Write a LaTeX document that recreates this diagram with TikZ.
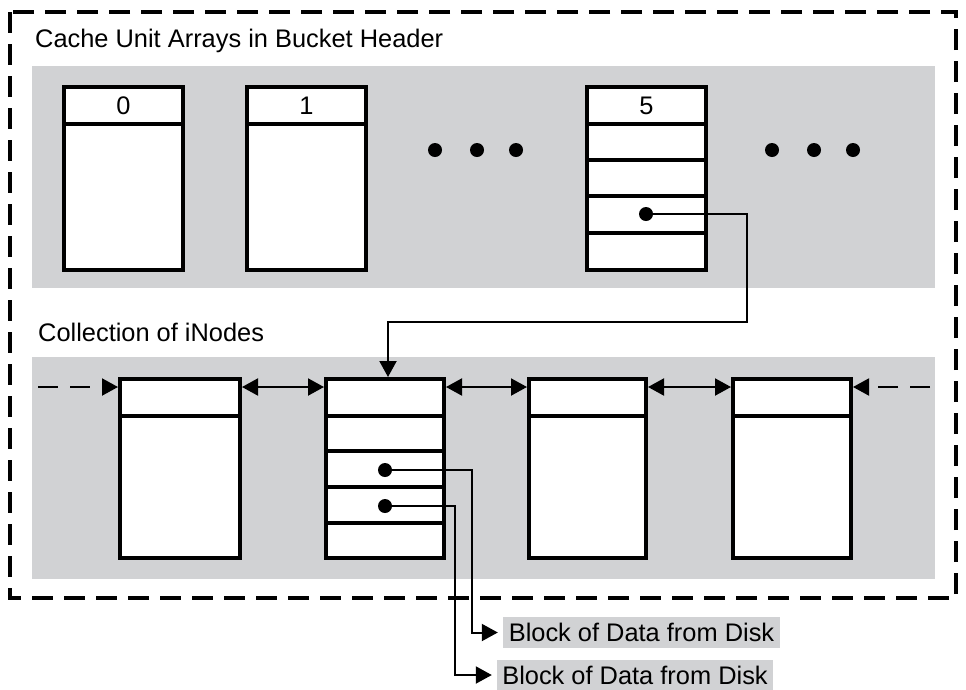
\documentclass[tikz,border=0pt]{standalone}
\usepackage{fontspec}
\setmainfont{Liberation Sans}
\usetikzlibrary{arrows.meta}
\definecolor{bandgray}{RGB}{209,210,212}
\begin{document}
\begin{tikzpicture}[x=1pt,y=-1pt,
  every node/.style={font=\fontsize{25.4}{30}\selectfont},
  cellbox/.style={draw, line width=4pt, fill=white, inner sep=0pt},
  divider/.style={line width=3.5pt},
  conn/.style={line width=2pt},
  dotn/.style={circle, fill=black, inner sep=0pt, minimum size=14pt},
  tipT/.tip={Triangle[length=16pt,width=17pt]},
  lbl/.style={fill=bandgray, inner sep=0pt},
  title/.style={anchor=base west, inner sep=0pt}]
\useasboundingbox (0,0) rectangle (966,689);
% outer frame and bands
\draw[line width=4pt, dash pattern=on 21pt off 11pt] (10,12) rectangle (956,598);
\fill[bandgray] (32,66) rectangle (935,288);
\fill[bandgray] (32,357) rectangle (935,579);
% titles
\node[title] (t1) at (35,47) {Cache Unit Arrays in Bucket Header};
\node[title] (t2) at (38,341) {Collection of iNodes};
% cache unit arrays
\node[cellbox, minimum width=119pt, minimum height=183pt] (c0) at (123.5,178.5) {};
\node[cellbox, minimum width=119pt, minimum height=183pt] (c1) at (306.5,178.5) {};
\node[cellbox, minimum width=119pt, minimum height=183pt] (c5) at (646.5,178.5) {};
\foreach \c in {c0,c1,c5} \draw[divider] (\c.west |- 0,124) -- (\c.east |- 0,124);
\foreach \y in {160,196,233} \draw[divider] (c5.west |- 0,\y) -- (c5.east |- 0,\y);
\node (n0) at (c0.north |- 0,106) {0};
\node (n1) at (c1.north |- 0,106) {1};
\node (n5) at (c5.north |- 0,106) {5};
% ellipsis dots
\foreach \x/\n in {435/e1,477/e2,516/e3,772/e4,814/e5,853/e6}
  \node[dotn] (\n) at (\x,150) {};
% inodes
\node[cellbox, minimum width=120pt, minimum height=179pt] (iA) at (180,468.5) {};
\node[cellbox, minimum width=118pt, minimum height=179pt] (iB) at (385,468.5) {};
\node[cellbox, minimum width=117pt, minimum height=179pt] (iC) at (587.5,468.5) {};
\node[cellbox, minimum width=118pt, minimum height=179pt] (iD) at (792,468.5) {};
\foreach \c in {iA,iB,iC,iD} \draw[divider] (\c.west |- 0,416) -- (\c.east |- 0,416);
\foreach \y in {451,487,523} \draw[divider] (iB.west |- 0,\y) -- (iB.east |- 0,\y);
% pointer dots
\node[dotn] (d5) at (646,214) {};
\node[dotn] (b1) at (385,470) {};
\node[dotn] (b2) at (385,506) {};
% inode links
\coordinate (lin) at (38,387);
\coordinate (rin) at (930,387);
\draw[conn, dash pattern=on 20pt off 12pt, -tipT] (lin) -- (iA.west |- lin);
\draw[conn, tipT-tipT] (iA.east |- lin) -- (iB.west |- lin);
\draw[conn, tipT-tipT] (iB.east |- lin) -- (iC.west |- lin);
\draw[conn, tipT-tipT] (iC.east |- lin) -- (iD.west |- lin);
\draw[conn, dash pattern=on 20pt off 12pt, -tipT] (rin) -- (iD.east |- rin);
% pointer from cache unit 5 to inode B
\coordinate (r1) at (747,322);
\coordinate (bt) at (388,377);
\draw[conn, -tipT] (d5.center) -| (r1) -| (bt);
% data blocks
\node[lbl, minimum width=277pt, minimum height=31pt] (L1) at (641.5,632.5) {Block of Data from Disk};
\node[lbl, minimum width=276pt, minimum height=30pt] (L2) at (635,675) {Block of Data from Disk};
\draw[conn, -tipT, shorten >=5pt] (b1.center) -| (L1.west -| 472,0) -- (L1.west);
\draw[conn, -tipT, shorten >=5pt] (b2.center) -| (L2.west -| 455,0) -- (L2.west);
\end{tikzpicture}
\end{document}
